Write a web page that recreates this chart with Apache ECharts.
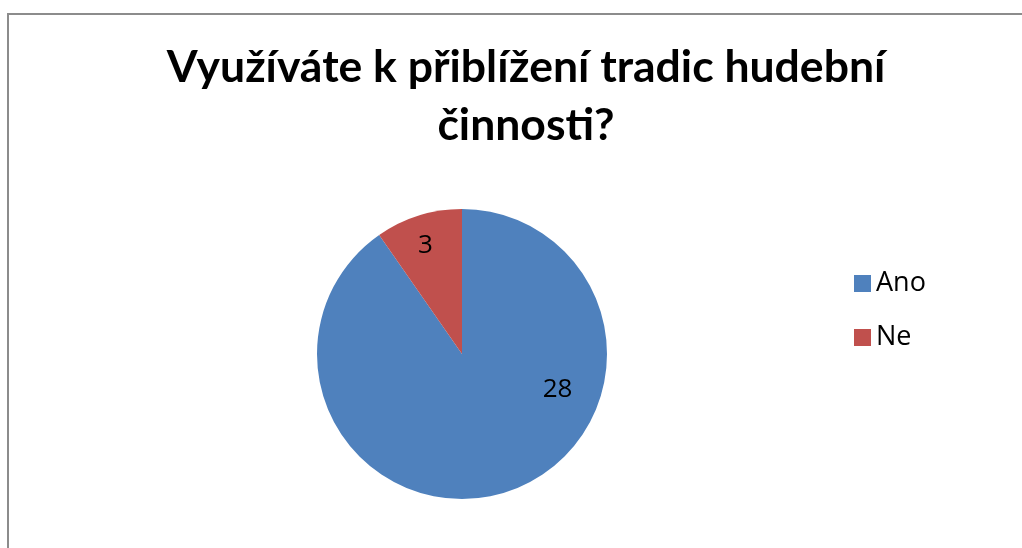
<!DOCTYPE html>
<html>
<head>
<meta charset="utf-8">
<script src="https://cdn.jsdelivr.net/npm/echarts@6/dist/echarts.min.js"></script>
<style>html,body{margin:0;padding:0;background:#fff;}#c{width:1022px;height:548px;}</style>
</head>
<body>
<div id="c"></div>
<script>
const titleText = 'Využíváte k přiblížení tradic hudební\nčinnosti?';
const categories = ['Ano', 'Ne'];
const values = [28, 3];
const colors = ['#4F81BD', '#C0504D'];
const labelOffsets = [[73, -36], [-14, -36]];

const chart = echarts.init(document.getElementById('c'));
chart.setOption({
  animation: false,
  backgroundColor: '#fff',
  graphic: [{
    type: 'rect', silent: true,
    shape: { x: 8, y: 14, width: 1040, height: 560 },
    style: { fill: 'none', stroke: '#8c8c8c', lineWidth: 2 }
  }],
  title: {
    text: titleText,
    left: 521, top: 34, textAlign: 'center',
    textStyle: { fontFamily: 'Lato', fontWeight: 'bold', fontSize: 44.5, lineHeight: 58, color: '#000' }
  },
  legend: {
    orient: 'vertical', left: 849, top: 265,
    itemWidth: 17, itemHeight: 17, itemGap: 27, icon: 'rect',
    textStyle: { fontFamily: 'Open Sans', fontSize: 27, lineHeight: 27, color: '#000', padding: [0, 0, 0, 0] },
    data: categories
  },
  series: [{
    type: 'pie',
    center: [462, 354], radius: 145,
    startAngle: 90, clockwise: true,
    label: { show: true, position: 'inside', fontFamily: 'Open Sans', fontSize: 26, color: '#000', formatter: '{c}' },
    labelLine: { show: false },
    itemStyle: { borderWidth: 0 },
    emphasis: { disabled: true },
    data: categories.map((n, i) => ({
      name: n, value: values[i],
      itemStyle: { color: colors[i] },
      label: { offset: labelOffsets[i] }
    }))
  }]
});
</script>
</body>
</html>
